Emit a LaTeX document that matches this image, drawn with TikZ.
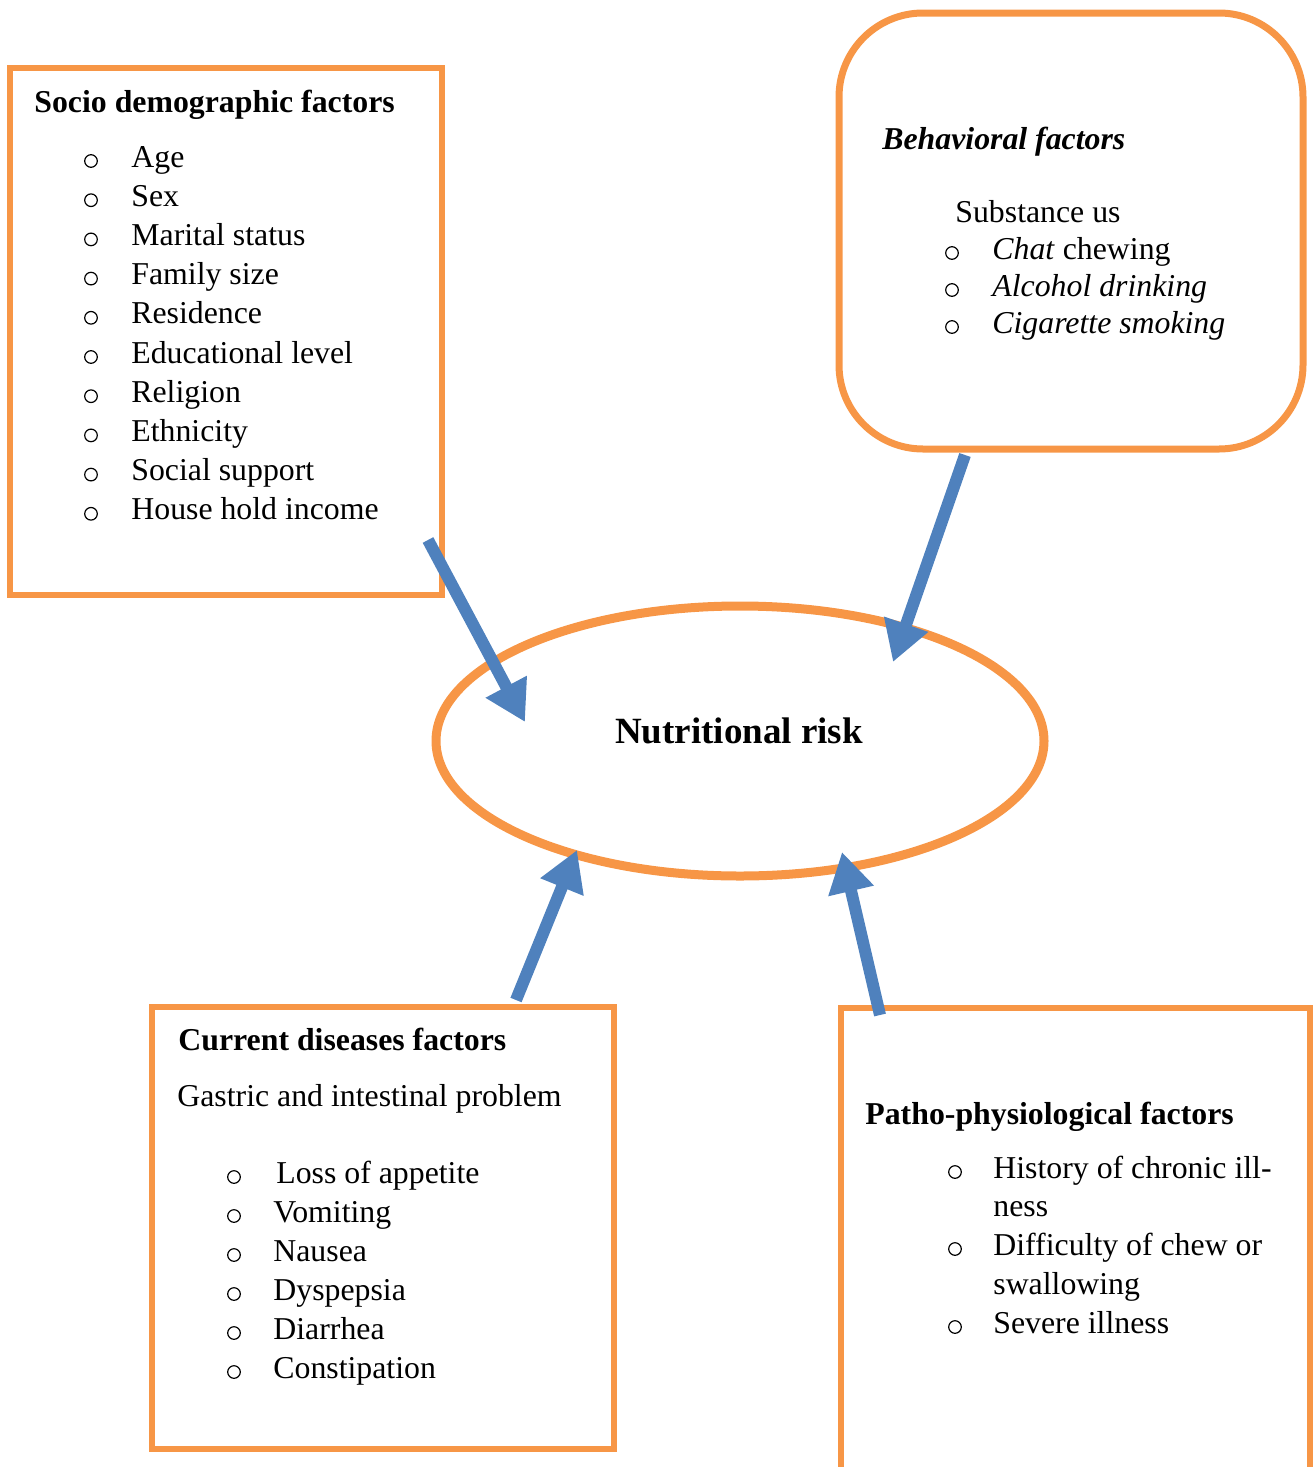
\documentclass[tikz,border=0pt]{standalone}
\usepackage{fontspec}
\setmainfont{Liberation Serif}
\usetikzlibrary{arrows.meta,shapes.geometric,fit}
\definecolor{boxorange}{HTML}{F79646}
\definecolor{arrowblue}{HTML}{4F81BD}
\tikzset{
  framebox/.style={draw=boxorange, line width=3pt, inner sep=0pt},
  txt/.style={anchor=base west, inner sep=0pt, font=\fontsize{15.9}{19}\selectfont},
  bul/.style={circle, draw, line width=0.6pt, inner sep=0pt, minimum size=6.3pt, yshift=3pt},
  factor/.style={-{Triangle[length=20pt,width=22pt]}, draw=arrowblue, fill=arrowblue, line width=6pt}
}
\begin{document}
\begin{tikzpicture}[x=0.5pt, y=-0.5pt]
  \useasboundingbox (0,0) rectangle (1314,1467);

  % frames
  \node[framebox, fit={(10,68) (442,595)}] (socio) {};
  \node[framebox, line width=3.5pt, rounded corners=42pt, fit={(839,13) (1303,449)}] (behav) {};
  \node[framebox, fit={(152,1007) (614,1449)}] (disease) {};
  \node[framebox, fit={(841,1008) (1310,1490)}] (patho) {};
  \node[ellipse, draw=boxorange, line width=4.5pt, minimum width=304pt, minimum height=135pt,
        inner sep=0pt] (risk) at (740,741) {};
  \node[anchor=base, inner sep=0pt, font=\fontsize{18.5}{22}\selectfont\bfseries] (risklabel) at (739,743) {Nutritional risk};

  % socio demographic
  \node[txt, font=\fontsize{15.9}{19}\selectfont\bfseries] (sociotitle) at (34,112) {Socio demographic factors};
  \foreach \t [count=\i] in {Age,Sex,Marital status,Family size,Residence,Educational level,Religion,Ethnicity,Social support,House hold income} {
    \node[bul] (sb\i) at (91,{167+39.2*(\i-1)}) {};
    \node[txt] (s\i) at (131,{167+39.2*(\i-1)}) {\t};
  }

  % behavioral
  \node[txt, font=\fontsize{15.9}{19}\selectfont\bfseries\itshape] (behavtitle) at (882,149) {Behavioral factors};
  \node[txt] (subst) at (955,222) {Substance us};
  \foreach \t [count=\i] in {\textit{Chat} chewing,\textit{Alcohol drinking},\textit{Cigarette smoking}} {
    \node[bul] (bb\i) at (952,{259+37*(\i-1)}) {};
    \node[txt] (b\i) at (992,{259+37*(\i-1)}) {\t};
  }

  % current diseases
  \node[txt, font=\fontsize{15.9}{19}\selectfont\bfseries] (diseasetitle) at (178,1050) {Current diseases factors};
  \node[txt] (gastric) at (177,1106) {Gastric and intestinal problem};
  \node[bul] (db1) at (234,1183) {};
  \node[txt] (d1) at (276,1183) {Loss of appetite};
  \foreach \t [count=\i from 2] in {Vomiting,Nausea,Dyspepsia,Diarrhea,Constipation} {
    \node[bul] (db\i) at (234,{1183+39*(\i-1)}) {};
    \node[txt] (d\i) at (273,{1183+39*(\i-1)}) {\t};
  }

  % patho-physiological
  \node[txt, font=\fontsize{15.9}{19}\selectfont\bfseries] (pathotitle) at (865,1124) {Patho-physiological factors};
  \node[bul] (pb1) at (955,1178) {};
  \node[txt] (p1) at (993,1178) {History of chronic ill-};
  \node[txt] (p1b) at (993,1216) {ness};
  \node[bul] (pb2) at (955,1255) {};
  \node[txt] (p2) at (993,1255) {Difficulty of chew or};
  \node[txt] (p2b) at (993,1294) {swallowing};
  \node[bul] (pb3) at (955,1333) {};
  \node[txt] (p3) at (993,1333) {Severe illness};

  % arrows into the ellipse
  \coordinate (sociotail) at (428,540);
  \coordinate (sociohead) at (525,722);
  \coordinate (behavtail) at (965,455);
  \coordinate (behavhead) at (893,662);
  \coordinate (diseasetail) at (516,1000);
  \coordinate (diseasehead) at (577,850);
  \coordinate (pathotail) at (880,1015);
  \coordinate (pathohead) at (842,852);
  \draw[factor] (sociotail) -- (sociohead);
  \draw[factor] (behavtail) -- (behavhead);
  \draw[factor] (diseasetail) -- (diseasehead);
  \draw[factor] (pathotail) -- (pathohead);
\end{tikzpicture}
\end{document}
